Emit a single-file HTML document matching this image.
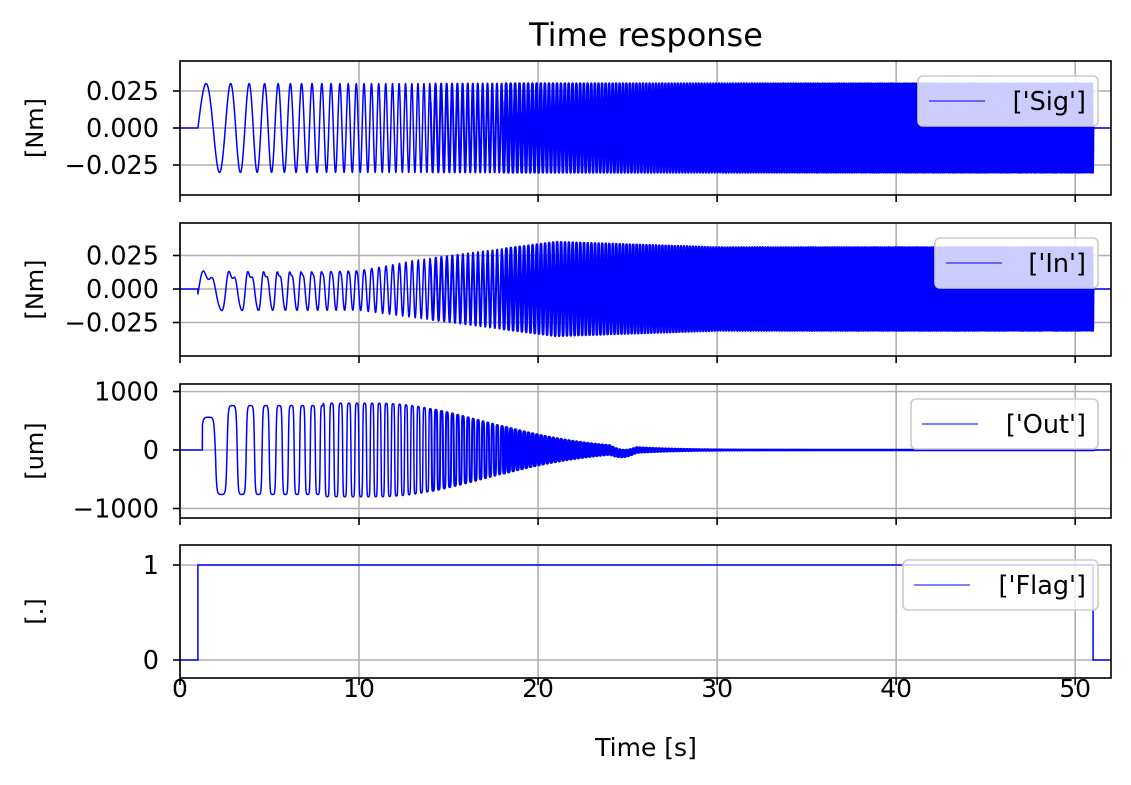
<!DOCTYPE html>
<html><head><meta charset="utf-8"><style>
html,body{margin:0;padding:0;background:#fff}
svg{display:block}
text{font-family:"DejaVu Sans","Liberation Sans",sans-serif;fill:#000}
</style></head><body>
<svg id="s" width="1131" height="785" viewBox="0 0 1131 785" xmlns="http://www.w3.org/2000/svg">
<rect width="1131" height="785" fill="#fff"/>
<text x="646" y="46" font-size="32" text-anchor="middle">Time response</text>
<g id="g"></g>
<text x="646" y="756" font-size="25" text-anchor="middle">Time [s]</text>
</svg>
<script>
var NS="http://www.w3.org/2000/svg",g=document.getElementById('g');
function el(n,a,t){var e=document.createElementNS(NS,n);for(var k in a)e.setAttribute(k,a[k]);if(t!==undefined)e.textContent=t;g.appendChild(e);return e;}
var L=180,R=1111;function X(t){return L+t*(R-L)/52;}
function ph(t){var tau=t-1;return 2*Math.PI*(0.5*tau+0.1*tau*tau);}
var panels=[
 {top:61,bot:195,y0:128,s:1480,ticks:[[0.025,'0.025'],[0,'0.000'],[-0.025,'\u22120.025']],lab:'[Nm]',leg:"['Sig']",lx:918,
  f:function(t){if(t<1||t>51)return 0;return 0.03*Math.sin(ph(t));}},
 {top:223,bot:356,y0:289,s:1340,ticks:[[0.025,'0.025'],[0,'0.000'],[-0.025,'\u22120.025']],lab:'[Nm]',leg:"['In']",lx:935,
  f:function(t){if(t<1||t>51)return 0;var e;if(t<10)e=0.016;else if(t<21)e=0.016+0.019*(t-10)/11;else e=0.035-0.004*Math.min(1,(t-21)/9);
   var p=ph(t)-0.3;var w=Math.max(0,1-(t-1)/12);return e*(Math.sin(p)+w*0.35*Math.sin(2*p+1)+w*0.15*Math.sin(3*p))/(1+0.2*w);}},
 {top:384,bot:518,y0:450,s:0.0585,ticks:[[1000,'1000'],[0,'0'],[-1000,'\u22121000']],lab:'[um]',leg:"['Out']",lx:911,
  f:function(t){if(t<1.25)return 0;var e;if(t<2)e=560;else if(t<8)e=760;else if(t<11)e=800;else e=800*Math.exp(-Math.pow((t-11)/8.5,2));
   var p=ph(t)-0.5;var sh=Math.tanh(3*Math.sin(p))/Math.tanh(3);var v=e*sh;if(t<2.1)v=Math.min(v,560);
   if(t>24&&t<25.5)v+=-60*Math.sin((t-24)*Math.PI/1.5);return v;}},
 {top:545,bot:678,y0:660,s:95,ticks:[[1,'1'],[0,'0']],lab:'[.]',leg:"['Flag']",lx:903,
  f:null}
];
panels.forEach(function(P,i){
 for(var k=0;k<=50;k+=10)el('line',{x1:X(k),x2:X(k),y1:P.top,y2:P.bot,stroke:'#b0b0b0','stroke-width':1.6});
 P.ticks.forEach(function(tk){var y=P.y0-tk[0]*P.s;el('line',{x1:L,x2:R,y1:y,y2:y,stroke:'#b0b0b0','stroke-width':1.6});
  el('line',{x1:L-7,x2:L,y1:y,y2:y,stroke:'#000','stroke-width':1.6});
  el('text',{x:L-21,y:y+9,'font-size':25.5,'text-anchor':'end'},tk[1]);});
 var cp='c'+i;var c=document.createElementNS(NS,'clipPath');c.setAttribute('id',cp);var r=document.createElementNS(NS,'rect');
 r.setAttribute('x',L);r.setAttribute('y',P.top);r.setAttribute('width',R-L);r.setAttribute('height',P.bot-P.top);c.appendChild(r);g.appendChild(c);
 if(P.f){
  var N=13000,d1='',d2='',d3='';
  for(var j=0;j<=N;j++){var t=52*j/N;var y=P.y0-P.f(t)*P.s;var pt=X(t).toFixed(2)+' '+y.toFixed(2);
   if(t<=14.5)d1+=(d1?'L':'M')+pt; if(t>=14&&t<=18.5)d2+=(d2?'L':'M')+pt; if(t>=18&&t<=51.05)d3+=(d3?'L':'M')+pt;}
  var tail='M'+X(51)+' '+P.y0+'L'+R+' '+P.y0;
  el('path',{d:d1+tail,fill:'none',stroke:'#0000ff','stroke-width':1.5,'stroke-linejoin':'round','clip-path':'url(#'+cp+')'});
  el('path',{d:d2,fill:'none',stroke:'#0000ff','stroke-width':2,'stroke-linejoin':'round','clip-path':'url(#'+cp+')'});
  el('path',{d:d3,fill:'none',stroke:'#0000ff','stroke-width':2.6,'stroke-linejoin':'round','stroke-linecap':'round','clip-path':'url(#'+cp+')'});
 } else {
  var y1=P.y0-P.s;var d='M'+L+' '+P.y0+'L'+X(1)+' '+P.y0+'L'+X(1)+' '+y1+'L'+X(51)+' '+y1+'L'+X(51)+' '+P.y0+'L'+R+' '+P.y0;
  el('path',{d:d,fill:'none',stroke:'#0000ff','stroke-width':1.5,'clip-path':'url(#'+cp+')'});
 }
 el('rect',{x:L,y:P.top,width:R-L,height:P.bot-P.top,fill:'none',stroke:'#000','stroke-width':1.6});
 for(var k=0;k<=50;k+=10)el('line',{x1:X(k),x2:X(k),y1:P.bot,y2:P.bot+7,stroke:'#000','stroke-width':1.6});
 var cy=(P.top+P.bot)/2;el('text',{x:0,y:0,'font-size':24,'text-anchor':'middle',transform:'translate(43,'+cy+') rotate(-90)'},P.lab);
 var ly=P.top+15;
 el('rect',{x:P.lx,y:ly,width:1098-P.lx,height:50,rx:5,fill:'#fff','fill-opacity':0.8,stroke:'#cccccc','stroke-width':1.6});
 el('line',{x1:P.lx+11,x2:P.lx+67,y1:ly+25,y2:ly+25,stroke:'#0000ff','stroke-width':1.1});
 el('text',{x:1086,y:ly+34,'font-size':25.5,'text-anchor':'end'},P.leg);
});
for(var k=0;k<=50;k+=10)el('text',{x:X(k),y:697,'font-size':25,'text-anchor':'middle'},String(k));
</script>
</body></html>
